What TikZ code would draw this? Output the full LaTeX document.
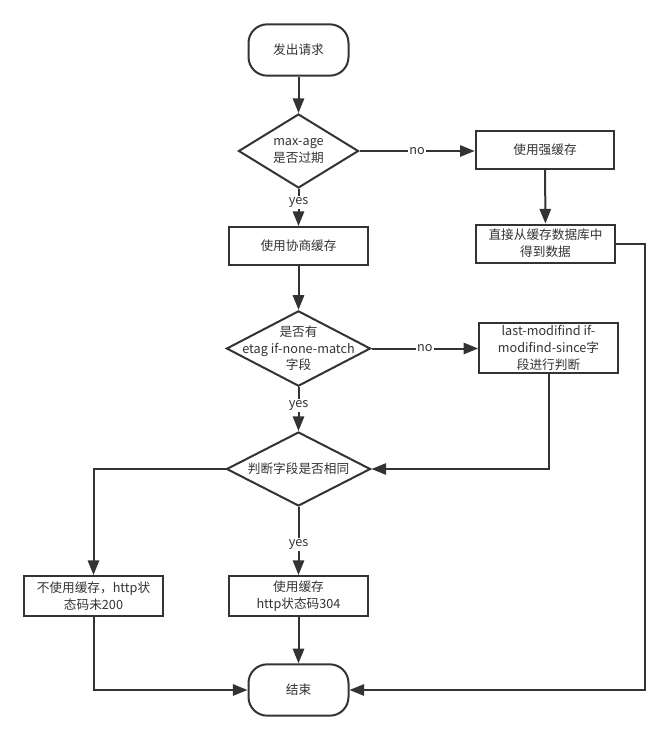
\documentclass[tikz,border=0pt]{standalone}
\usepackage{fontspec}
\setmainfont{Noto Sans CJK SC}
\usetikzlibrary{arrows.meta, shapes.geometric}
\definecolor{darkline}{RGB}{51,51,51}
\tikzset{every picture/.style={line width=0.75pt}}
\tikzset{
  txt/.style={text=darkline, font=\fontsize{9.5pt}{12.5pt}\selectfont, align=center},
  terminal/.style={draw=darkline, line width=1.5pt, rounded corners=14pt, minimum width=75pt, minimum height=38.5pt, txt},
  process/.style={draw=darkline, line width=1.5pt, minimum width=104pt, minimum height=28.5pt, inner sep=1pt, txt},
  decision/.style={draw=darkline, line width=1.5pt, diamond, inner sep=0pt, minimum width=108pt, minimum height=56pt},
  flow/.style={draw=darkline, line width=1.5pt, -{Triangle[length=11pt, width=8.5pt]}},
  lbl/.style={fill=white, inner sep=1pt, txt}
}

\begin{document}
\begin{tikzpicture}[x=0.75pt,y=0.75pt,yscale=-1,xscale=1]
\useasboundingbox (0,0) rectangle (668,740);

%Shape: Terminal
\node [terminal] (start) at (298.5,50) {发出请求};
%Shape: Diamond
\node [decision, minimum width=90pt, minimum height=55.5pt, label={[txt]center:{max-age\\是否过期}}] (d1) at (298.5,151) {};
%Shape: Rectangle
\node [process] (p1) at (298.5,246) {使用协商缓存};
%Shape: Rectangle
\node [process] (p2) at (545,150) {使用强缓存};
%Shape: Rectangle
\node [process] (p3) at (545.5,243.5) {直接从缓存数据库中\\得到数据};
%Shape: Diamond
\node [decision, minimum height=56.5pt, label={[txt]center:{是否有\\etag if-none-match\\字段}}] (d2) at (298.5,348.5) {};
%Shape: Rectangle
\node [process, minimum height=37.5pt] (p4) at (548.5,348) {last-modifind if-\\modifind-since字\\段进行判断};
%Shape: Diamond
\node [decision, minimum height=55.5pt, label={[txt]center:{判断字段是否相同}}] (d3) at (298.5,469) {};
%Shape: Rectangle
\node [process, minimum height=30pt] (p5) at (93.5,596) {不使用缓存，http状\\态码未200};
%Shape: Rectangle
\node [process, minimum height=30pt] (p6) at (298.5,596) {使用缓存\\http状态码304};
%Shape: Terminal
\node [terminal] (end) at (298.5,690) {结束};

%Straight Lines
\draw [flow] (start) -- (d1);
\draw [flow] (d1.east) -- node [lbl] {no} (p2.west |- d1.east);
\draw [flow] (p2) -- (p3);
\draw [flow] (d1.south) -- node [lbl, pos=0.36] {yes} (p1.north);
\draw [flow] (p1) -- (d2);
\draw [flow] (d2.east) -- node [lbl] {no} (p4.west |- d2.east);
\draw [flow] (d2.south) -- node [lbl, pos=0.42] {yes} (d3.north);
\draw [flow] (p4.south) |- (d3.east);
\draw [flow] (d3.south) -- node [lbl, pos=0.55] {yes} (p6.north);
\draw [flow] (d3.west) -| (p5.north);
\draw [flow] (p6) -- (end);
\draw [flow] (p5.south) |- (end.west);
\draw [flow] (p3.east) -- ++(29,0) |- (end.east);

\end{tikzpicture}
\end{document}
